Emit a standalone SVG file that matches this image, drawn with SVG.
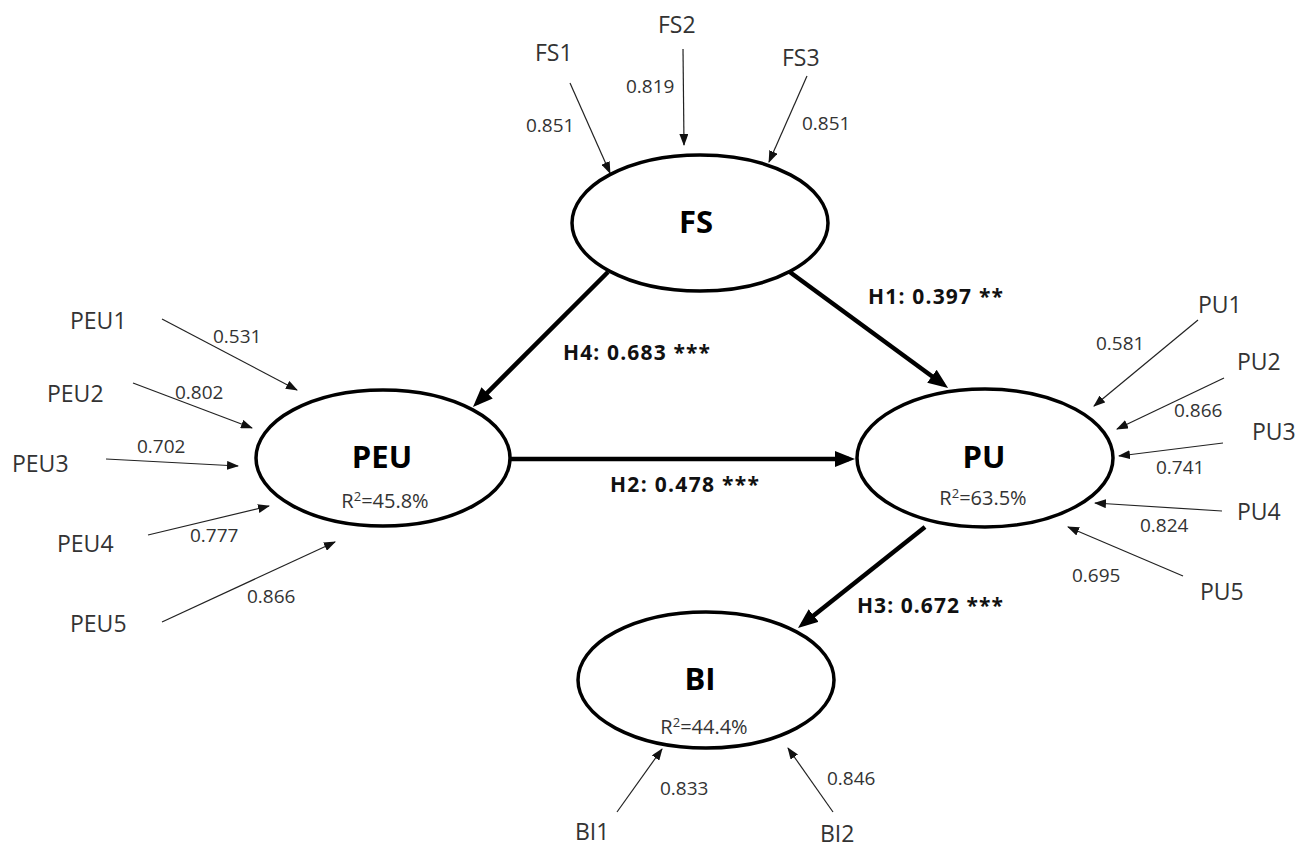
<svg xmlns="http://www.w3.org/2000/svg" width="1311" height="849" viewBox="0 0 1311 849">
<style>
.bg{fill:#fff}
.lv{fill:#fff;stroke:#000;stroke-width:3.5}
.name{font-family:"Open Sans","Liberation Sans",sans-serif;font-weight:bold;font-size:31px;fill:#000;text-anchor:middle}
.r2{font-family:"Open Sans","Liberation Sans",sans-serif;font-size:20px;fill:#333;text-anchor:middle}
.sup{font-size:13px}
.ind{font-family:"Open Sans","Liberation Sans",sans-serif;font-size:23px;fill:#333}
.num{font-family:"Open Sans","Liberation Sans",sans-serif;font-size:19px;fill:#333}
.hyp{font-family:"Open Sans","Liberation Sans",sans-serif;font-weight:bold;font-size:21px;fill:#111}
.thin{stroke:#222;stroke-width:1.2;fill:none;marker-end:url(#ah)}
.thick{stroke:#000;stroke-width:4.5;fill:none;marker-end:url(#AH)}
</style>
<defs>
<marker id="ah" markerUnits="userSpaceOnUse" markerWidth="12" markerHeight="9" refX="11" refY="4.5" orient="auto">
<path d="M0,0 L12,4.5 L0,9 z" fill="#111"/>
</marker>
<marker id="AH" markerUnits="userSpaceOnUse" markerWidth="20" markerHeight="16" refX="14" refY="8" orient="auto">
<path d="M0,0 L20,8 L0,16 z" fill="#000"/>
</marker>
</defs>
<rect class="bg" x="0" y="0" width="1311" height="849"/>

<g id="connectors">
<line class="thick" x1="608" y1="272" x2="477.2" y2="402.8"/>
<line class="thick" x1="787" y1="270" x2="943.2" y2="384.5"/>
<line class="thick" x1="510" y1="459" x2="849" y2="459"/>
<line class="thick" x1="925" y1="527" x2="802.7" y2="624.3"/>
<line class="thin" x1="570" y1="83" x2="610" y2="173"/>
<line class="thin" x1="683" y1="49" x2="684" y2="145"/>
<line class="thin" x1="807" y1="76" x2="769" y2="162"/>
<line class="thin" x1="162" y1="319" x2="297" y2="390"/>
<line class="thin" x1="133" y1="383" x2="252" y2="428"/>
<line class="thin" x1="106" y1="459" x2="238" y2="466"/>
<line class="thin" x1="148" y1="535" x2="269" y2="506"/>
<line class="thin" x1="162" y1="622" x2="335" y2="542"/>
<line class="thin" x1="1198" y1="320" x2="1094" y2="406"/>
<line class="thin" x1="1224" y1="378" x2="1117" y2="429"/>
<line class="thin" x1="1223" y1="443" x2="1119" y2="456"/>
<line class="thin" x1="1222" y1="511" x2="1095" y2="503"/>
<line class="thin" x1="1183" y1="576" x2="1068" y2="527"/>
<line class="thin" x1="617" y1="812" x2="662" y2="749"/>
<line class="thin" x1="833" y1="812" x2="788" y2="748"/>
<text class="hyp" x="563" y="360" textLength="147">H4: 0.683 ***</text>
<text class="hyp" x="868" y="304" textLength="135">H1: 0.397 **</text>
<text class="hyp" x="610" y="492" textLength="149">H2: 0.478 ***</text>
<text class="hyp" x="857" y="613" textLength="146">H3: 0.672 ***</text>
<text class="num" x="526" y="132">0.851</text>
<text class="num" x="626" y="93">0.819</text>
<text class="num" x="802" y="130">0.851</text>
<text class="num" x="213" y="343">0.531</text>
<text class="num" x="175" y="399">0.802</text>
<text class="num" x="137" y="453">0.702</text>
<text class="num" x="190" y="542">0.777</text>
<text class="num" x="247" y="603">0.866</text>
<text class="num" x="1096" y="350">0.581</text>
<text class="num" x="1174" y="417">0.866</text>
<text class="num" x="1156" y="474">0.741</text>
<text class="num" x="1140" y="532">0.824</text>
<text class="num" x="1072" y="582">0.695</text>
<text class="num" x="660" y="795">0.833</text>
<text class="num" x="827" y="785">0.846</text>
</g>

<g id="FS">
<ellipse class="lv" cx="700" cy="223" rx="128" ry="68"/>
<text class="name" x="696" y="233">FS</text>
</g>
<g id="PEU">
<ellipse class="lv" cx="383" cy="458" rx="127" ry="68"/>
<text class="name" x="382" y="468">PEU</text>
<text class="r2" x="385" y="508">R<tspan class="sup" dy="-7">2</tspan><tspan dy="7">=45.8%</tspan></text>
</g>
<g id="PU">
<ellipse class="lv" cx="985" cy="458" rx="128" ry="69"/>
<text class="name" x="984" y="468">PU</text>
<text class="r2" x="983" y="505">R<tspan class="sup" dy="-7">2</tspan><tspan dy="7">=63.5%</tspan></text>
</g>
<g id="BI">
<ellipse class="lv" cx="706" cy="680" rx="128" ry="68"/>
<text class="name" x="700" y="690">BI</text>
<text class="r2" x="704" y="734">R<tspan class="sup" dy="-7">2</tspan><tspan dy="7">=44.4%</tspan></text>
</g>

<g id="FS1"><text class="ind" x="535" y="61">FS1</text></g>
<g id="FS2"><text class="ind" x="658" y="33">FS2</text></g>
<g id="FS3"><text class="ind" x="782" y="66">FS3</text></g>
<g id="PEU1"><text class="ind" x="70" y="329">PEU1</text></g>
<g id="PEU2"><text class="ind" x="47" y="402">PEU2</text></g>
<g id="PEU3"><text class="ind" x="12" y="472">PEU3</text></g>
<g id="PEU4"><text class="ind" x="57" y="552">PEU4</text></g>
<g id="PEU5"><text class="ind" x="70" y="632">PEU5</text></g>
<g id="PU1"><text class="ind" x="1198" y="313">PU1</text></g>
<g id="PU2"><text class="ind" x="1237" y="370">PU2</text></g>
<g id="PU3"><text class="ind" x="1252" y="440">PU3</text></g>
<g id="PU4"><text class="ind" x="1237" y="520">PU4</text></g>
<g id="PU5"><text class="ind" x="1200" y="600">PU5</text></g>
<g id="BI1"><text class="ind" x="575" y="840">BI1</text></g>
<g id="BI2"><text class="ind" x="820" y="842">BI2</text></g>
</svg>
